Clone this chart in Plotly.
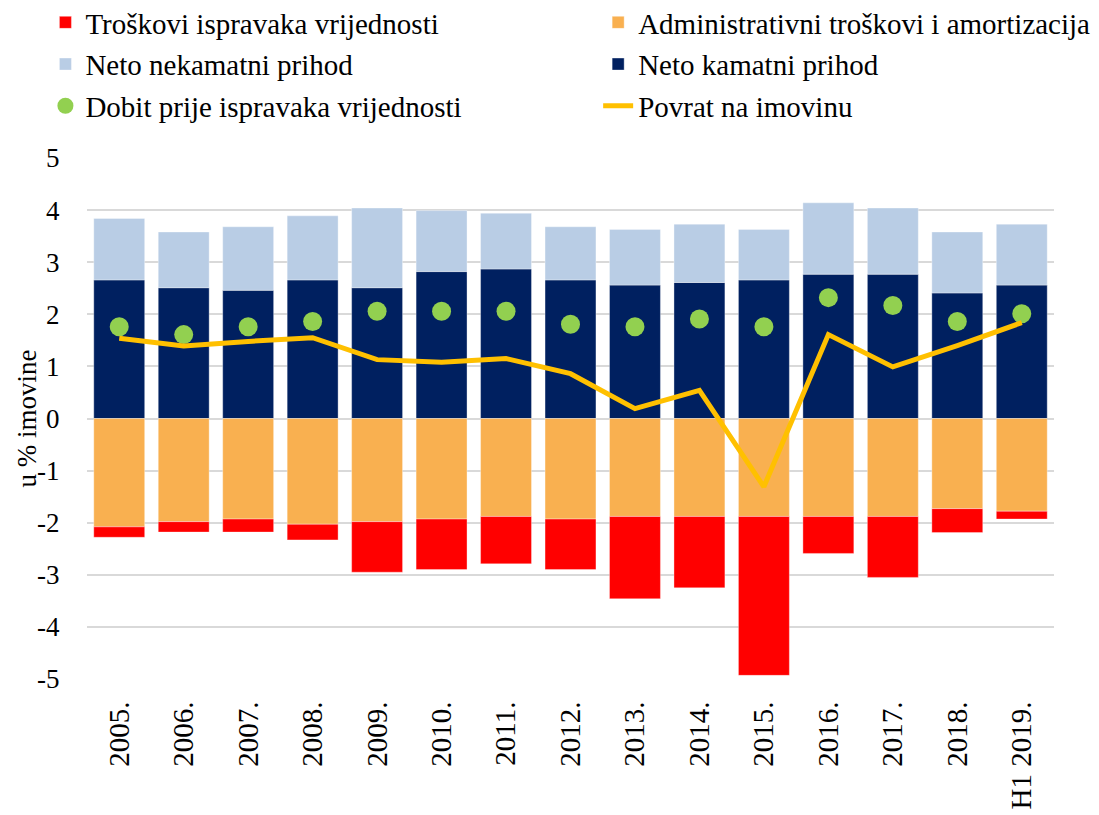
import plotly.graph_objects as go

categories = ["2005.", "2006.", "2007.", "2008.", "2009.", "2010.", "2011.", "2012.",
              "2013.", "2014.", "2015.", "2016.", "2017.", "2018.", "H1 2019."]

# Neto kamatni prihod (net interest income)
neto_kamatni = [2.66, 2.51, 2.46, 2.66, 2.51, 2.82, 2.87, 2.66, 2.56, 2.61, 2.66, 2.77, 2.77, 2.41, 2.56]
# Neto nekamatni prihod (net non-interest income)
neto_nekamatni = [1.18, 1.07, 1.22, 1.23, 1.53, 1.17, 1.07, 1.02, 1.07, 1.12, 0.97, 1.37, 1.27, 1.17, 1.17]
# Administrativni troškovi i amortizacija
admin_troskovi = [-2.08, -1.98, -1.93, -2.03, -1.98, -1.93, -1.88, -1.93, -1.88, -1.88, -1.88, -1.88, -1.88, -1.73, -1.78]
# Troškovi ispravaka vrijednosti
ispravci = [-0.20, -0.20, -0.25, -0.30, -0.97, -0.97, -0.91, -0.97, -1.58, -1.37, -3.05, -0.71, -1.17, -0.46, -0.15]
# Dobit prije ispravaka vrijednosti
dobit_prije = [1.76, 1.61, 1.76, 1.86, 2.06, 2.06, 2.06, 1.81, 1.76, 1.91, 1.76, 2.32, 2.17, 1.86, 2.01]
# Povrat na imovinu
povrat = [1.54, 1.39, 1.48, 1.55, 1.13, 1.08, 1.15, 0.86, 0.19, 0.54, -1.31, 1.61, 0.99, 1.40, 1.84]

y_ticks = [5, 4, 3, 2, 1, 0, -1, -2, -3, -4, -5]
y_tick_text = ["5", "4", "3", "2", "1", "0", "-1", "-2", "-3", "-4", "-5"]

FONT = "Liberation Serif"
LEG_FONT = 29
TICK_FONT = 27
XTICK_FONT = 29
edge = dict(width=1, color="rgba(255,255,255,0.35)")

fig = go.Figure()
fig.add_trace(go.Bar(x=categories, y=neto_kamatni, name="Neto kamatni prihod",
                     marker=dict(color="#002060", line=edge),
                     legend="legend2", legendgroup="g4", legendrank=2))
fig.add_trace(go.Bar(x=categories, y=neto_nekamatni, name="Neto nekamatni prihod",
                     marker=dict(color="#B9CDE5", line=edge),
                     legend="legend", legendgroup="g3", legendrank=2))
fig.add_trace(go.Bar(x=categories, y=admin_troskovi, name="Administrativni troškovi i amortizacija",
                     marker=dict(color="#F9B050", line=edge),
                     legend="legend2", legendgroup="g2", legendrank=1))
fig.add_trace(go.Bar(x=categories, y=ispravci, name="Troškovi ispravaka vrijednosti",
                     marker=dict(color="#FF0000", line=edge),
                     legend="legend", legendgroup="g1", legendrank=1))
fig.add_trace(go.Scatter(x=categories, y=dobit_prije, name="Dobit prije ispravaka vrijednosti",
                         mode="markers", marker=dict(color="#92D050", size=19),
                         legend="legend", legendgroup="g5", legendrank=3))
fig.add_trace(go.Scatter(x=categories, y=povrat, name="Povrat na imovinu",
                         mode="lines", line=dict(color="#FFC000", width=5),
                         legend="legend2", legendgroup="g6", legendrank=3))

legend_common = dict(
    orientation="v",
    xref="paper", yref="paper",
    y=1.309, xanchor="left", yanchor="top",
    font=dict(family=FONT, size=LEG_FONT, color="black"),
    bgcolor="rgba(0,0,0,0)",
    traceorder="grouped",
    tracegroupgap=1,
)

fig.update_layout(
    width=1091, height=807,
    barmode="relative",
    bargap=0.21,
    plot_bgcolor="white",
    paper_bgcolor="white",
    font=dict(family=FONT, size=TICK_FONT, color="black"),
    margin=dict(l=79, r=45, t=150, b=136, autoexpand=False),
    showlegend=True,
    legend=dict(x=-0.043, **legend_common),
    legend2=dict(x=0.5286, **legend_common),
    xaxis=dict(
        range=[-0.5, 14.5],
        tickangle=-90,
        tickfont=dict(family=FONT, size=XTICK_FONT),
        showgrid=False,
        showline=False,
        ticks="outside", ticklen=10, tickcolor="rgba(0,0,0,0)",
        automargin=False,
    ),
    yaxis=dict(
        range=[-5, 5],
        tickvals=y_ticks,
        ticktext=y_tick_text,
        tickfont=dict(family=FONT, size=TICK_FONT),
        showgrid=True,
        gridcolor="#D9D9D9",
        gridwidth=1.5,
        zeroline=True,
        zerolinecolor="#D9D9D9",
        zerolinewidth=1.5,
        ticks="outside", ticklen=21, tickcolor="rgba(0,0,0,0)",
        automargin=False,
    ),
    annotations=[dict(
        text="u % imovine", textangle=-90,
        xref="paper", yref="paper", x=-0.063, y=0.5,
        xanchor="center", yanchor="middle", showarrow=False,
        font=dict(family=FONT, size=27, color="black"),
    )],
)

fig.write_html("out.html")
